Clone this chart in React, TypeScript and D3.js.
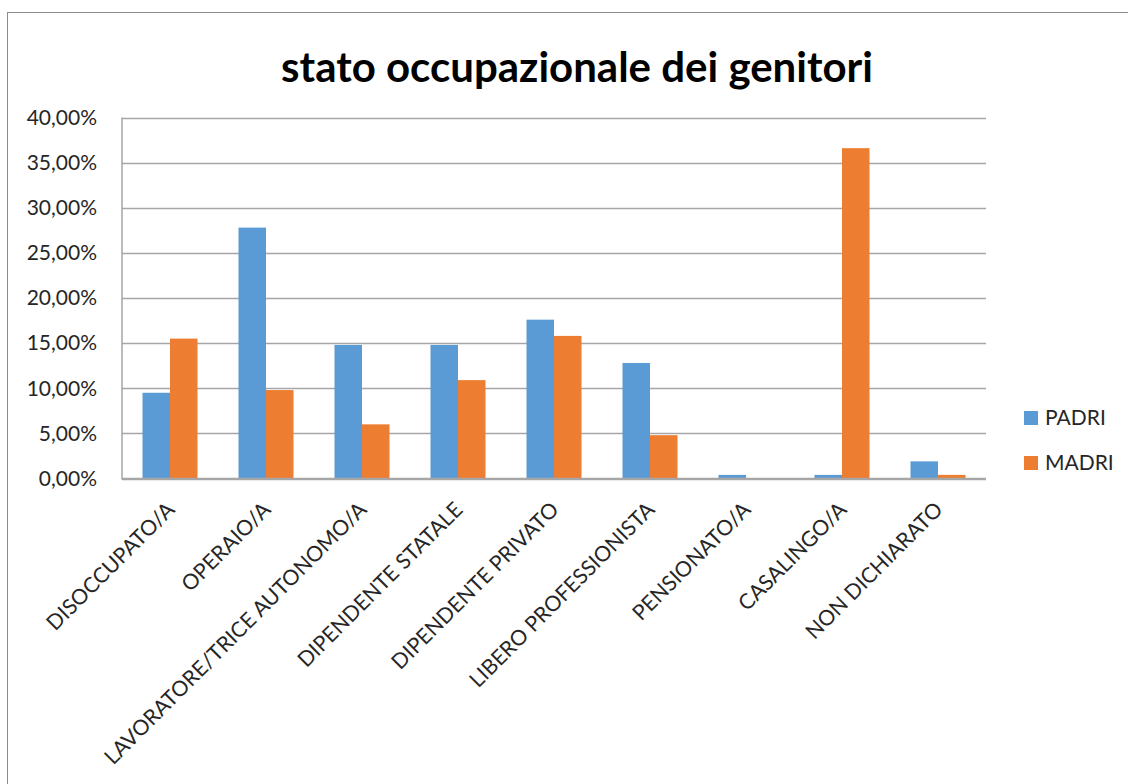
import React, { useEffect, useRef } from 'react';
import * as d3 from 'd3';

const categories = [
  'DISOCCUPATO/A',
  'OPERAIO/A',
  'LAVORATORE/TRICE AUTONOMO/A',
  'DIPENDENTE STATALE',
  'DIPENDENTE PRIVATO',
  'LIBERO PROFESSIONISTA',
  'PENSIONATO/A',
  'CASALINGO/A',
  'NON DICHIARATO',
];
const series = ['PADRI', 'MADRI'];
const padri = [9.5, 27.8, 14.8, 14.8, 17.6, 12.8, 0.4, 0.4, 1.9];
const madri = [15.5, 9.8, 6.0, 10.9, 15.8, 4.8, 0, 36.6, 0.4];
const yTicks = [0, 5, 10, 15, 20, 25, 30, 35, 40];
const colors = ['#5B9BD5', '#ED7D31'];

const FONT = 'Lato, "Open Sans", sans-serif';

const App: React.FC = () => {
  const svgRef = useRef<SVGSVGElement>(null);

  useEffect(() => {
    if (!svgRef.current) return;
    const svg = d3.select(svgRef.current);
    svg.selectAll('*').remove();

    const plot = { left: 122, right: 986, top: 117.5, bottom: 478.5 };

    // chart frame
    svg.append('rect')
      .attr('x', 7.5).attr('y', 12.5)
      .attr('width', 1140).attr('height', 800)
      .attr('fill', '#fff')
      .attr('stroke', '#8c8c8c')
      .attr('stroke-width', 1);

    svg.append('text')
      .attr('x', 577).attr('y', 82)
      .attr('text-anchor', 'middle')
      .attr('font-family', FONT)
      .attr('font-weight', 700)
      .attr('font-size', 42)
      .attr('fill', '#000')
      .text('stato occupazionale dei genitori');

    const x = d3.scaleBand<string>()
      .domain(categories)
      .range([plot.left, plot.right])
      .paddingInner(0.427)
      .paddingOuter(0.2135);

    const xs = d3.scaleBand<string>()
      .domain(series)
      .range([0, x.bandwidth()]);

    const y = d3.scaleLinear().domain([0, 40]).range([plot.bottom, plot.top]);

    // gridlines
    svg.append('g')
      .selectAll('line')
      .data(yTicks)
      .enter().append('line')
      .attr('x1', plot.left).attr('x2', plot.right)
      .attr('y1', d => Math.round(y(d)) + 0.5)
      .attr('y2', d => Math.round(y(d)) + 0.5)
      .attr('stroke', '#a6a6a6')
      .attr('stroke-width', 1.5);

    // y axis line
    svg.append('line')
      .attr('x1', plot.left).attr('x2', plot.left)
      .attr('y1', plot.top).attr('y2', plot.bottom + 1)
      .attr('stroke', '#a6a6a6')
      .attr('stroke-width', 1.5);

    // y tick labels
    svg.append('g')
      .selectAll('text')
      .data(yTicks)
      .enter().append('text')
      .attr('x', 97)
      .attr('y', d => y(d))
      .attr('dy', '0.35em')
      .attr('text-anchor', 'end')
      .attr('font-family', FONT)
      .attr('font-size', 21)
      .attr('fill', '#262626')
      .text(d => d3.format('.2f')(d).replace('.', ',') + '%');

    // bars
    const values = [padri, madri];
    const groups = svg.append('g')
      .selectAll('g')
      .data(categories)
      .enter().append('g')
      .attr('transform', d => `translate(${x(d)},0)`);

    groups.selectAll('rect')
      .data((_, i) => series.map((s, si) => ({ s, si, v: values[si][i] })))
      .enter().append('rect')
      .attr('x', d => xs(d.s)!)
      .attr('width', xs.bandwidth())
      .attr('y', d => y(d.v))
      .attr('height', d => plot.bottom - y(d.v))
      .attr('fill', d => colors[d.si]);

    // x axis line on top of bars
    svg.append('line')
      .attr('x1', plot.left).attr('x2', plot.right)
      .attr('y1', plot.bottom).attr('y2', plot.bottom)
      .attr('stroke', '#a6a6a6')
      .attr('stroke-width', 1.5);

    // category labels
    svg.append('g')
      .selectAll('text')
      .data(categories)
      .enter().append('text')
      .attr('transform', d => `translate(${x(d)! + x.bandwidth() / 2 + 6},${511}) rotate(-45)`)
      .attr('text-anchor', 'end')
      .attr('font-family', FONT)
      .attr('font-size', 21.3)
      .attr('fill', '#262626')
      .text(d => d);

    // legend
    const legend = svg.append('g')
      .selectAll('g')
      .data(series)
      .enter().append('g')
      .attr('transform', (_, i) => `translate(1024,${418 + i * 45})`);

    legend.append('rect')
      .attr('x', 0).attr('y', -7)
      .attr('width', 14).attr('height', 14)
      .attr('fill', (_, i) => colors[i]);

    legend.append('text')
      .attr('x', 21).attr('y', 0)
      .attr('dy', '0.35em')
      .attr('font-family', FONT)
      .attr('font-size', 21)
      .attr('fill', '#262626')
      .text(d => d);
  }, []);

  return (
    <svg
      ref={svgRef}
      width={1128}
      height={784}
      style={{ position: 'absolute', left: 0, top: 0, background: '#fff' }}
    />
  );
};

export default App;
